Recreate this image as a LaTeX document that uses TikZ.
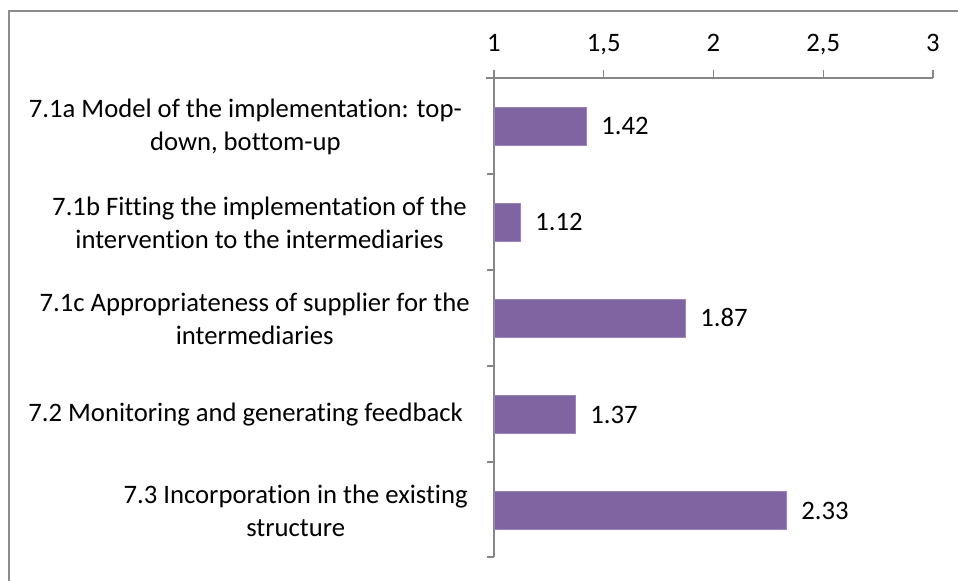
\documentclass[tikz,border=0pt]{standalone}
\usepackage{fontspec}
\setmainfont{Carlito}[Ligatures=NoCommon]
\usetikzlibrary{positioning}
\definecolor{barpurple}{HTML}{8064A2}
\definecolor{baredge}{HTML}{9B86B8}
\definecolor{axisgray}{HTML}{868686}
\definecolor{framegray}{HTML}{8C8C8C}
\begin{document}
\begin{tikzpicture}[x=0.75pt, y=-0.75pt,
    font=\fontsize{20}{24.75}\selectfont,
    frame/.style={draw=framegray, line width=1.5pt},
    axis/.style={draw=axisgray, line width=1pt},
    bar/.style={fill=barpurple, draw=baredge, line width=0.5pt},
    catlabel/.style={anchor=east, align=center, inner sep=0pt},
    vallabel/.style={anchor=base west, inner sep=0pt},
    ticklabel/.style={anchor=base, inner sep=0pt}]
    \useasboundingbox (0,0) rectangle (958,581);

    % Chart frame (only top and left edges are visible)
    \draw[frame] (9,581) -- (9,11) -- (958,11);

    % Value axis on top
    \coordinate (x1) at (494,78);
    \coordinate (x3) at (933,78);
    \draw[axis] (486,78) -- (x3);
    \draw[axis] (494,78) -- (494,70);
    \draw[axis] (603.75,78) -- (603.75,70);
    \draw[axis] (713.5,78) -- (713.5,70);
    \draw[axis] (823.25,78) -- (823.25,70);
    \draw[axis] (933,78) -- (933,70);
    \node[ticklabel] (t10) at (494,52) {1};
    \node[ticklabel] (t15) at (603.75,52) {1,5};
    \node[ticklabel] (t20) at (713.5,52) {2};
    \node[ticklabel] (t25) at (823.25,52) {2,5};
    \node[ticklabel] (t30) at (933,52) {3};

    % Category axis
    \coordinate (y0) at (494,557);
    \draw[axis] (494,70) -- (y0);
    \draw[axis] (487,174) -- (494,174);
    \draw[axis] (487,270) -- (494,270);
    \draw[axis] (487,366) -- (494,366);
    \draw[axis] (487,462) -- (494,462);
    \draw[axis] (487,557) -- (494,557);

    % Categories
    \node[catlabel] (c1) at (462,127) {7.1a Model of the implementation: top-\\down, bottom-up};
    \node[catlabel] (c2) at (467,223) {7.1b Fitting the implementation of the\\intervention to the intermediaries};
    \node[catlabel] (c3) at (470,319) {7.1c Appropriateness of supplier for the\\intermediaries};
    \node[catlabel] (c4) at (463,415) {7.2 Monitoring and generating feedback};
    \node[catlabel] (c5) at (468,511) {7.3 Incorporation in the existing\\structure};

    % Bars
    \draw[bar] (494,107) rectangle (586.2,145);
    \draw[bar] (494,203) rectangle (520.3,241);
    \draw[bar] (494,299) rectangle (685.0,337);
    \draw[bar] (494,395) rectangle (575.2,433);
    \draw[bar] (494,491) rectangle (785.9,529);

    % Bar values
    \node[vallabel] (v1) at (601,135) {1.42};
    \node[vallabel] (v2) at (535,231) {1.12};
    \node[vallabel] (v3) at (700,327) {1.87};
    \node[vallabel] (v4) at (590,423) {1.37};
    \node[vallabel] (v5) at (801,519) {2.33};
\end{tikzpicture}
\end{document}
